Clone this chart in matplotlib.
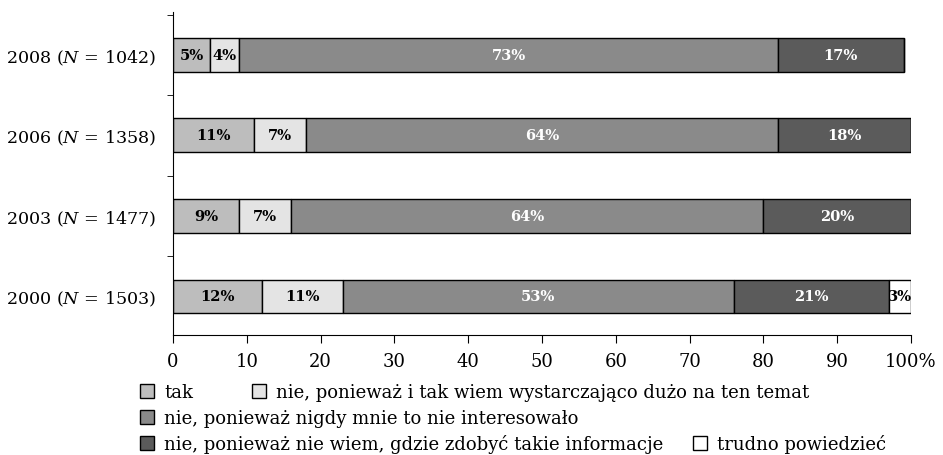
import matplotlib
matplotlib.use("Agg")
import matplotlib.pyplot as plt

plt.rcParams['font.family'] = ['DejaVu Serif']
plt.rcParams['mathtext.fontset'] = 'dejavuserif'

years = ["2000 ($N$ = 1503)", "2003 ($N$ = 1477)", "2006 ($N$ = 1358)", "2008 ($N$ = 1042)"]
answers = ["tak",
           "nie, ponieważ i tak wiem wystarczająco dużo na ten temat",
           "nie, ponieważ nigdy mnie to nie interesowało",
           "nie, ponieważ nie wiem, gdzie zdobyć takie informacje",
           "trudno powiedzieć"]
tak = [12, 9, 11, 5]
wiem_duzo = [11, 7, 7, 4]
nigdy = [53, 64, 64, 73]
nie_wiem = [21, 20, 18, 17]
trudno = [3, 0, 0, 0]
series = [tak, wiem_duzo, nigdy, nie_wiem, trudno]

colors = ["#bdbdbd", "#e4e4e4", "#8a8a8a", "#5b5b5b", "#ffffff"]
txt_colors = ["black", "black", "white", "white", "black"]

fig = plt.figure(figsize=(9.43, 4.56), dpi=100)
ax = fig.add_axes([0.1835, 0.263, 0.7825, 0.708])

pos = list(range(len(years)))
left = [0] * len(years)
bars = []
for vals, col, tc in zip(series, colors, txt_colors):
    b = ax.barh(pos, vals, left=left, height=0.42, color=col,
                edgecolor="black", linewidth=1)
    ax.bar_label(b, labels=[f"{v}%" if v > 0 else "" for v in vals],
                 label_type="center", color=tc, fontsize=10.5,
                 fontweight="bold")
    bars.append(b)
    left = [l + v for l, v in zip(left, vals)]

ax.set_xlim(0, 100)
ax.set_ylim(-0.48, 3.53)
ax.set_xticks(range(0, 101, 10))
ax.set_xticklabels([str(t) for t in range(0, 100, 10)] + ["100%"], fontsize=13)
ax.set_yticks(pos)
ax.set_yticklabels(years, fontsize=12.6)
ax.tick_params(axis="y", length=0, pad=12)
ax.set_yticks([0.5, 1.5, 2.5, 3.5], minor=True)
ax.tick_params(axis="y", which="minor", length=4, direction="out")
ax.tick_params(axis="x", length=6, direction="out", pad=6)
ax.spines["top"].set_visible(False)
ax.spines["right"].set_visible(False)

# legend entries laid out in three rows under the axis
spots = [(140, 393), (252, 393), (140, 419), (140, 445), (693, 445)]
for b, lab, (px, py) in zip(bars, answers, spots):
    fig.legend(handles=[b], labels=[lab], loc="center left",
               bbox_to_anchor=(px / 943, 1 - py / 456), frameon=False,
               handlelength=0.8, handleheight=0.8, borderpad=0,
               borderaxespad=0, handletextpad=0.55, fontsize=13)

fig.savefig("out.png", dpi=100)
